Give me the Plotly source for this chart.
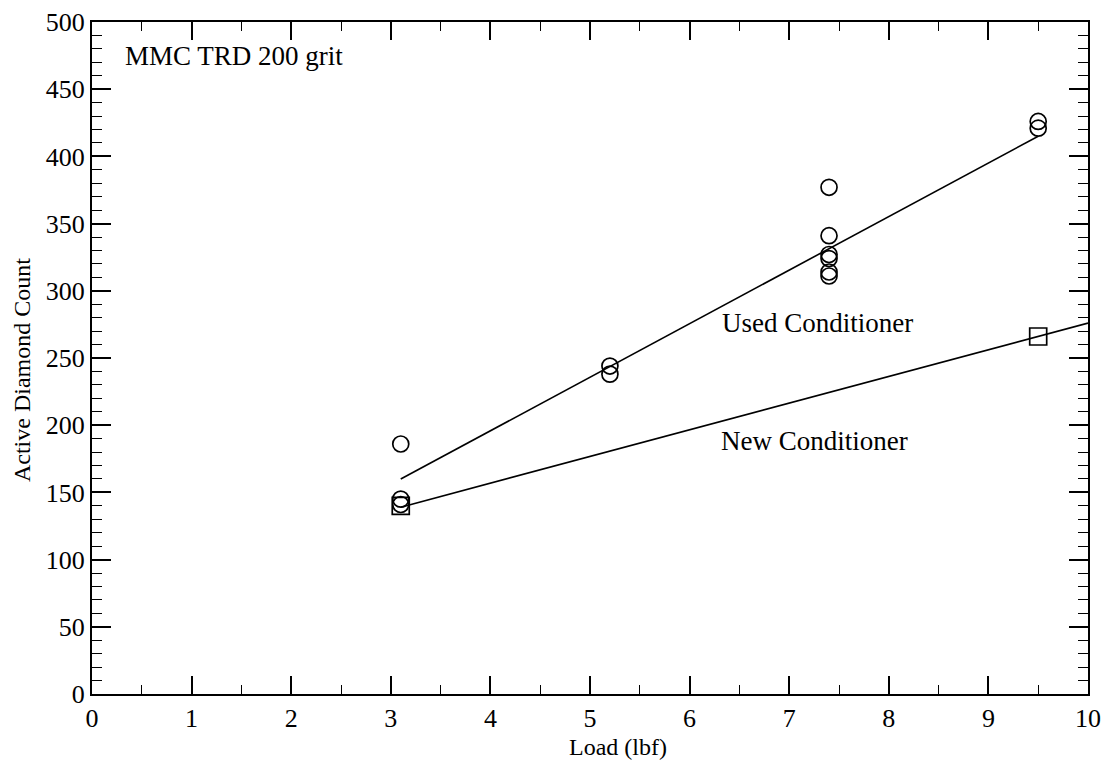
import plotly.graph_objects as go

# Used conditioner measurements
used_load = [3.1, 3.1, 3.1, 5.2, 5.2, 7.4, 7.4, 7.4, 7.4, 7.4, 7.4, 9.5, 9.5]
used_count = [186, 145, 141, 244, 238, 377, 341, 327, 324, 314, 311, 426, 421]

# New conditioner measurements
new_load = [3.1, 9.5]
new_count = [140, 266]

# Linear fit lines (endpoints as drawn)
used_fit_x = [3.1, 9.5]
used_fit_y = [160, 415]
new_fit_x = [3.1, 10.0]
new_fit_y = [139, 276]

x_ticks = [0, 1, 2, 3, 4, 5, 6, 7, 8, 9, 10]
y_ticks = [0, 50, 100, 150, 200, 250, 300, 350, 400, 450, 500]

x_title = "Load (lbf)"
y_title = "Active Diamond Count"

FONT = "Liberation Serif, Times New Roman, serif"

fig = go.Figure()
fig.add_trace(go.Scatter(x=used_fit_x, y=used_fit_y, mode="lines",
                         line=dict(color="black", width=1.6), showlegend=False))
fig.add_trace(go.Scatter(x=new_fit_x, y=new_fit_y, mode="lines",
                         line=dict(color="black", width=1.6), showlegend=False))
fig.add_trace(go.Scatter(x=used_load, y=used_count, mode="markers",
                         marker=dict(symbol="circle-open", size=16, color="black",
                                     line=dict(width=1.7, color="black")),
                         showlegend=False))
fig.add_trace(go.Scatter(x=new_load, y=new_count, mode="markers",
                         marker=dict(symbol="square-open", size=17, color="black",
                                     line=dict(width=1.7, color="black")),
                         showlegend=False))

annots = [
    dict(x=0.31, y=475, text="MMC TRD 200 grit", xanchor="left"),
    dict(x=7.28, y=276, text="Used Conditioner", xanchor="center"),
    dict(x=7.25, y=188, text="New Conditioner", xanchor="center"),
]
for a in annots:
    fig.add_annotation(x=a["x"], y=a["y"], text=a["text"], xanchor=a["xanchor"],
                       yanchor="middle", showarrow=False,
                       font=dict(family=FONT, size=27, color="black"))

# Axis titles placed like the original
fig.add_annotation(xref="paper", yref="paper", x=0.528, y=-0.079, text=x_title,
                   showarrow=False, xanchor="center", yanchor="middle",
                   font=dict(family=FONT, size=24, color="black"))
fig.add_annotation(xref="paper", yref="paper", x=-0.0703, y=0.482, text=y_title,
                   textangle=-90, showarrow=False, xanchor="center", yanchor="middle",
                   font=dict(family=FONT, size=24, color="black"))

fig.update_xaxes(range=[0, 10], tickvals=x_ticks, ticktext=[str(v) for v in x_ticks],
                 ticks="inside", ticklen=18, tickwidth=1.6, tickcolor="black",
                 minor=dict(dtick=0.5, tick0=0, ticks="inside", ticklen=9,
                            tickwidth=1.4, tickcolor="black", showgrid=False),
                 showline=True, linecolor="black", linewidth=2, mirror="ticks",
                 showgrid=False, zeroline=False, automargin=False,
                 tickfont=dict(family=FONT, size=26, color="black"))
fig.update_yaxes(range=[0, 500], tickvals=y_ticks, ticktext=[str(v) for v in y_ticks],
                 ticks="inside", ticklen=19, tickwidth=1.6, tickcolor="black",
                 minor=dict(dtick=10, tick0=0, ticks="inside", ticklen=10,
                            tickwidth=1.4, tickcolor="black", showgrid=False),
                 showline=True, linecolor="black", linewidth=2, mirror="ticks",
                 showgrid=False, zeroline=False, automargin=False,
                 tickfont=dict(family=FONT, size=26, color="black"))

fig.update_layout(width=1107, height=763,
                  margin=dict(l=92, r=19, t=22, b=69),
                  plot_bgcolor="white", paper_bgcolor="white",
                  font=dict(family=FONT, color="black"))

fig.write_html("out.html", config={"displayModeBar": False},
               post_script="document.body.style.margin='0';document.body.style.overflow='hidden';")
